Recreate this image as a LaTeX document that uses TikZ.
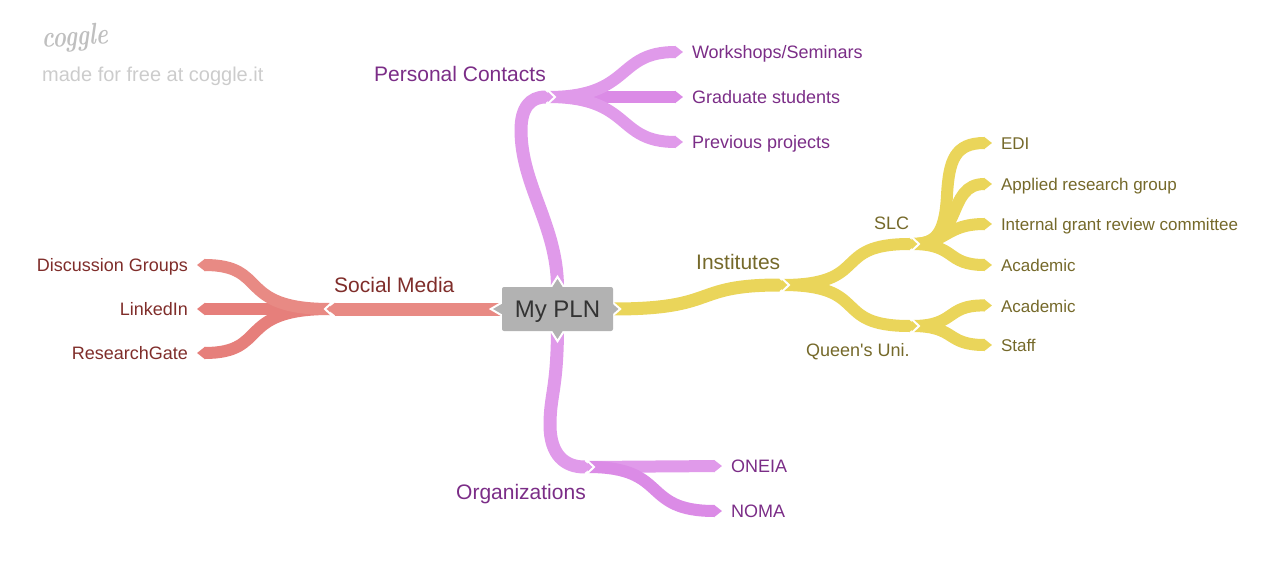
\documentclass[tikz,border=0pt]{standalone}
\usepackage{fontspec}
\newfontfamily\plnfont{Liberation Sans}
\usetikzlibrary{arrows.meta,backgrounds}

\definecolor{pinkA}{HTML}{E09AEA}
\definecolor{pinkB}{HTML}{DB8BE6}
\definecolor{redA}{HTML}{E88A84}
\definecolor{redB}{HTML}{E67F7B}
\definecolor{yellowA}{HTML}{EAD55A}
\definecolor{pinkText}{HTML}{7B2D87}
\definecolor{redText}{HTML}{7F2D2A}
\definecolor{yellowText}{HTML}{75692A}

\tikzset{%
        every branch/.style={
            draw,
            line width=12pt,
            -{Triangle[length=8pt,width=12pt]}
        },
        every leaf/.style={
            inner sep=0pt,
            outer xsep=9pt,
            text height=13pt,
            text depth=0pt
        },
        every topic/.style={
            inner sep=0pt,
            anchor=base west
        },
        notch/.pic={
            \draw [white, line width=2pt] (-6.5,-8) -- (2,0) -- (-6.5,8);
        },
    }

\begin{document}
\begin{tikzpicture}[x=1pt, y=-1pt]
        \useasboundingbox (0,0) rectangle (1280,570);

        \node [fill=black!30, rounded corners=2pt, minimum width=111pt, minimum height=44pt,
            inner sep=0pt, text height=17pt, text depth=0pt, text=black!80,
            font=\plnfont\fontsize{24}{28}\selectfont] (plna) at (557.5,309) {My PLN};

        % free ends of the branches
        \coordinate (contacts) at (553,97);
        \coordinate (media) at (327,309);
        \coordinate (institutes) at (787,285);
        \coordinate (orgs) at (592,467);
        \coordinate (slc) at (917,244);
        \coordinate (queens) at (917,326);

        \foreach \n/\t/\y in {wks/{Workshops/Seminars}/52, grad/Graduate students/97, prev/Previous projects/142}
        \node [every leaf, anchor=west, text=pinkText, font=\plnfont\fontsize{18}{22}\selectfont] (\n) at (683,\y) {\t};

        \foreach \n/\t/\y in {oneia/ONEIA/466, noma/NOMA/511}
        \node [every leaf, anchor=west, text=pinkText, font=\plnfont\fontsize{18}{22}\selectfont] (\n) at (722,\y) {\t};

        \foreach \n/\t/\y in {disc/Discussion Groups/265, linked/LinkedIn/309, gate/ResearchGate/353}
        \node [every leaf, anchor=east, text=redText, font=\plnfont\fontsize{18}{22}\selectfont] (\n) at (197,\y) {\t};

        \foreach \n/\t/\y in {edi/EDI/143, appl/Applied research group/184, grant/Internal grant review committee/224,
            acada/Academic/265, acadb/Academic/305.5, staff/Staff/345}
        \node [every leaf, anchor=west, text=yellowText, font=\plnfont\fontsize{17}{21}\selectfont] (\n) at (992,\y) {\t};

        \foreach \n/\t/\x/\y/\c in {lcontacts/Personal Contacts/374/81/pinkText, lmedia/Social Media/334/292/redText,
            lorgs/Organizations/456/499/pinkText, linst/Institutes/696/269/yellowText}
        \node [every topic, text=\c, font=\plnfont\fontsize{21}{25}\selectfont] (\n) at (\x,\y) {\t};

        \node [every topic, text=yellowText, font=\plnfont\fontsize{18}{22}\selectfont] (lslc) at (874,229) {SLC};
        \node [every topic, text=yellowText, font=\plnfont\fontsize{18}{22}\selectfont] (lqueens) at (806,356) {Queen's Uni.};

        \node [every topic, transform shape, xscale=.76, rotate=3, text=black!25,
            font=\itshape\bfseries\fontsize{30}{30}\selectfont] (logo) at (42,48) {coggle};
        \node [every topic, text=black!20, font=\plnfont\fontsize{20}{24}\selectfont] (made) at (42,81) {made for free at coggle.it};

        \begin{scope}[on background layer]
        % personal contacts
        \draw [every branch, pinkB] ([xshift=-5pt]contacts) -- (grad.west);
        \draw [every branch, pinkA] ([xshift=-5pt]contacts) .. controls +(85,0) and (615,52) .. (wks.west);
        \draw [every branch, pinkA] ([xshift=-5pt]contacts) .. controls +(85,0) and (615,142) .. (prev.west);
        \draw [every branch, pinkA, line width=13pt] (plna.north) .. controls (557,225) and (521,185) .. (521,130)
            .. controls (521,108) and (530,97) .. (contacts);

        % organizations
        \draw [every branch, pinkA] ([xshift=-4pt]orgs) -- (oneia.west);
        \draw [every branch, pinkB] ([xshift=-4pt]orgs) .. controls +(82,0) and (640,511) .. (noma.west);
        \draw [every branch, pinkA, line width=13pt] (plna.south) .. controls (557,390) and (550,395) .. (550,425)
            .. controls (550,455) and (565,467) .. (orgs);

        % social media
        \draw [every branch, redB] ([xshift=3pt]media) -- (linked.east);
        \draw [every branch, redB] ([xshift=3pt]media) .. controls +(-95,0) and (270,353) .. (gate.east);
        \draw [every branch, redA] ([xshift=3pt]media) .. controls +(-95,0) and (270,265) .. (disc.east);
        \draw [every branch, redA, line width=13pt] (plna.west) -- (media);

        % institutes
        \draw [every branch, yellowA] ([xshift=-5pt]institutes) .. controls +(90,0) and (830,244) .. (slc);
        \draw [every branch, yellowA] ([xshift=-5pt]institutes) .. controls +(90,0) and (830,326) .. (queens);
        \draw [every branch, yellowA, line width=13pt] (plna.east) .. controls (720,309) and (690,285) .. (institutes);

        \draw [every branch, yellowA] ([xshift=-5pt]slc) .. controls +(23,0) and (945,235) .. (947,195)
            .. controls (949,160) and (955,143) .. (edi.west);
        \draw [every branch, yellowA] ([xshift=-5pt]slc) .. controls +(53,0) and (945,184) .. (appl.west);
        \draw [every branch, yellowA] ([xshift=-5pt]slc) .. controls +(35,0) and (945,224) .. (grant.west);
        \draw [every branch, yellowA] ([xshift=-5pt]slc) .. controls +(45,0) and (945,265) .. (acada.west);
        \draw [every branch, yellowA] ([xshift=-5pt]queens) .. controls +(45,0) and (945,305) .. (acadb.west);
        \draw [every branch, yellowA] ([xshift=-5pt]queens) .. controls +(45,0) and (945,345) .. (staff.west);

        % tips of the central node
        \draw [fill=black!30, draw=white, line width=2pt]
            ([shift={(-7,1)}]plna.north) -- ++(7,-11) -- ++(7,11)
            ([shift={(-7,-1)}]plna.south) -- ++(7,11) -- ++(7,-11)
            ([shift={(1,-7)}]plna.west) -- ++(-12,7) -- ++(12,7)
            ([shift={(-1,-7)}]plna.east) -- ++(8,7) -- ++(-8,7);
        \end{scope}

        \foreach \j in {contacts,orgs,institutes,slc,queens}
        \pic at (\j) {notch};
        \pic [rotate=180] at (media) {notch};
    \end{tikzpicture}
\end{document}
